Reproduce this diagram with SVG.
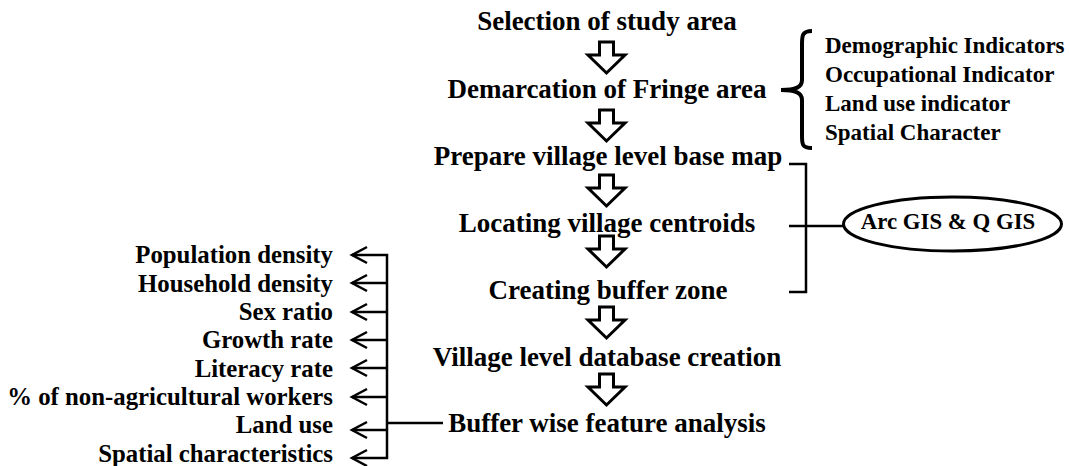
<svg xmlns="http://www.w3.org/2000/svg" width="1069" height="466" viewBox="0 0 1069 466">
<defs>
<style>
text{font-family:"Liberation Serif","Times New Roman",serif;font-weight:bold;fill:#000}
.main{font-size:27px;text-anchor:middle}
.right{font-size:23px;text-anchor:start}
.left{font-size:24.8px;text-anchor:end}
.gis{font-size:22.8px;text-anchor:middle}
.blk{fill:#fff;stroke:#000;stroke-width:3;stroke-linejoin:miter}
.ln{fill:none;stroke:#000;stroke-width:2.5}
</style>
<path id="ba" d="M-7.5,0 H6.5 V13 H18 L-0.5,31 L-19,13 H-7.5 Z"/>
<path id="oa" d="M15,-8 L0,0 L15,8"/>
</defs>
<rect width="1069" height="466" fill="#fff"/>
<g id="n1"><text class="main" x="607" y="30">Selection of study area</text></g>
<g id="n2"><text class="main" x="607" y="98">Demarcation of Fringe area</text></g>
<g id="n3"><text class="main" x="608" y="165">Prepare village level base map</text></g>
<g id="n4"><text class="main" x="607" y="232">Locating village centroids</text></g>
<g id="n5"><text class="main" x="608" y="299">Creating buffer zone</text></g>
<g id="n6"><text class="main" x="607" y="366">Village level database creation</text></g>
<g id="n7"><text class="main" x="607" y="432">Buffer wise feature analysis</text></g>
<g id="indicators">
<text class="right" x="825" y="53">Demographic Indicators</text>
<text class="right" x="825" y="82">Occupational Indicator</text>
<text class="right" x="825" y="111">Land use indicator</text>
<text class="right" x="825" y="140">Spatial Character</text>
</g>
<g id="gis">
<ellipse cx="952.5" cy="224" rx="109" ry="27" fill="#fff" stroke="#000" stroke-width="3"/>
<text class="gis" x="948" y="229">Arc GIS &amp; Q GIS</text>
</g>
<g id="features">
<text class="left" x="333" y="263">Population density</text>
<text class="left" x="333" y="292">Household density</text>
<text class="left" x="333" y="320">Sex ratio</text>
<text class="left" x="333" y="348">Growth rate</text>
<text class="left" x="333" y="377">Literacy rate</text>
<text class="left" x="333" y="405">% of non-agricultural workers</text>
<text class="left" x="333" y="433">Land use</text>
<text class="left" x="333" y="462">Spatial characteristics</text>
</g>
<g id="connectors">
<use href="#ba" class="blk" x="607" y="42"/>
<use href="#ba" class="blk" x="607" y="110"/>
<use href="#ba" class="blk" x="607" y="175"/>
<use href="#ba" class="blk" x="607" y="236"/>
<use href="#ba" class="blk" x="607" y="307"/>
<use href="#ba" class="blk" x="607" y="374"/>
<path d="M812,31 C802,31 802,36 802,44 V80 C802,87 796,90 781,90 C796,90 802,93 802,100 V136 C802,144 802,148 812,148" fill="none" stroke="#000" stroke-width="4"/>
<path class="ln" d="M789,164 H806 V292 H789 M789,226 H844"/>
<path class="ln" d="M352,255 H387 V458 H352 M352,283 H387 M352,312 H387 M352,340 H387 M352,368 H387 M352,397 H387 M352,430 H387 M387,423 H443"/>
<use href="#oa" class="ln" x="352" y="255"/>
<use href="#oa" class="ln" x="352" y="283"/>
<use href="#oa" class="ln" x="352" y="312"/>
<use href="#oa" class="ln" x="352" y="340"/>
<use href="#oa" class="ln" x="352" y="368"/>
<use href="#oa" class="ln" x="352" y="397"/>
<use href="#oa" class="ln" x="352" y="430"/>
<use href="#oa" class="ln" x="352" y="458"/>
</g>
</svg>
